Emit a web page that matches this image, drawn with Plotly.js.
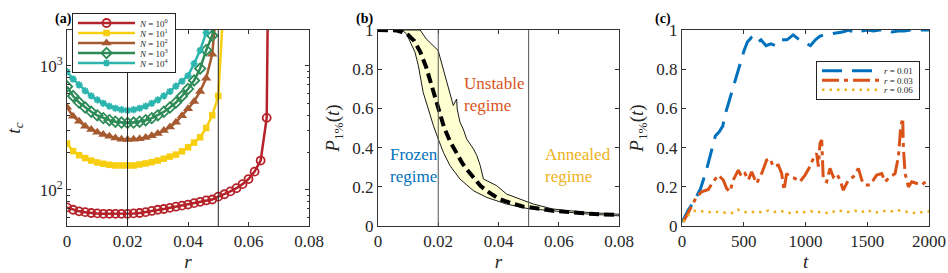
<!DOCTYPE html>
<html>
<head>
<meta charset="utf-8">
<script src="https://cdn.plot.ly/plotly-3.0.1.min.js"></script>
<style>
  html, body { margin: 0; padding: 0; background: #fff; }
  #plot { width: 948px; height: 273px; }
</style>
</head>
<body>
<div id="plot"></div>
<script>
// ---------- Panel (a): t_c vs r ----------
const rRed = [0,0.002,0.004,0.006,0.008,0.010,0.012,0.014,0.016,0.018,0.020,0.022,0.024,0.026,0.028,0.030,0.032,0.034,0.036,0.038,0.040,0.042,0.044,0.046,0.048,0.050,0.052,0.054,0.056,0.058,0.060,0.062,0.064,0.066,0.0666];
const tRed = [72,69,67,66,65,64.5,64,64,64,64,64,64.5,65,66,67.5,69,70,71.5,73,74.5,76,78,80,82,83.5,88,92,97,103,111,122,140,172,380,10000];

const rYel = [0,0.002,0.004,0.006,0.008,0.010,0.012,0.014,0.016,0.018,0.020,0.022,0.024,0.026,0.028,0.030,0.032,0.034,0.036,0.038,0.040,0.042,0.044,0.046,0.048,0.050,0.0515];
const tYel = [236,205,190,180,172,166,162,159,157,157,157,157,160,163,167,172,178,185,192,204,220,240,265,315,398,570,2500];

const rBrn = [0,0.002,0.004,0.006,0.008,0.010,0.012,0.014,0.016,0.018,0.020,0.022,0.024,0.026,0.028,0.030,0.032,0.034,0.036,0.038,0.040,0.042,0.044,0.046,0.048,0.0492];
const tBrn = [462,391,356,325,306,291,279,270,262,256,254,255,258,264,272,284,300,320,350,395,450,515,620,792,1240,2600];

const rGrn = [0,0.002,0.004,0.006,0.008,0.010,0.012,0.014,0.016,0.018,0.020,0.022,0.024,0.026,0.028,0.030,0.032,0.034,0.036,0.038,0.040,0.042,0.044,0.046,0.048,0.049];
const tGrn = [679,570,505,460,425,398,378,364,354,348,346,348,354,364,378,398,425,460,505,570,650,760,950,1335,1750,2600];

const rCyn = [0,0.002,0.004,0.006,0.008,0.010,0.012,0.014,0.016,0.018,0.020,0.022,0.024,0.026,0.028,0.030,0.032,0.034,0.036,0.038,0.040,0.042,0.044,0.046,0.047];
const tCyn = [896,782,700,627,572,530,498,472,454,442,437,442,454,472,498,530,572,620,685,750,830,1040,1330,1850,2600];

const seriesNamesA = ['<i>N</i> = 10<sup>0</sup>','<i>N</i> = 10<sup>1</sup>','<i>N</i> = 10<sup>2</sup>','<i>N</i> = 10<sup>3</sup>','<i>N</i> = 10<sup>4</sup>'];
const regimeBounds = [0.02, 0.05];

// ---------- Panel (b): P_1%(t) vs r ----------
const rMean = [0,0.002,0.004,0.006,0.008,0.010,0.012,0.014,0.016,0.018,0.020,0.022,0.024,0.026,0.028,0.030,0.032,0.034,0.036,0.038,0.040,0.042,0.044,0.046,0.048,0.050,0.052,0.054,0.056,0.058,0.060,0.062,0.064,0.066,0.068,0.070,0.072,0.074,0.076,0.078,0.080];
const pMean = [1,1,1,0.998,0.99,0.975,0.945,0.89,0.81,0.71,0.6,0.5,0.43,0.37,0.32,0.28,0.24,0.205,0.18,0.16,0.14,0.128,0.118,0.108,0.1,0.097,0.091,0.086,0.082,0.078,0.075,0.072,0.069,0.067,0.065,0.063,0.061,0.06,0.058,0.057,0.056];

const rUpper = [0.008,0.014,0.016,0.0184,0.020,0.0206,0.0222,0.0239,0.025,0.0261,0.0263,0.0272,0.0283,0.0294,0.0317,0.0328,0.0339,0.035,0.0372,0.0394,0.0427,0.047,0.0516,0.058,0.069,0.080];
const pUpper = [1,1,0.955,0.92,0.895,0.86,0.77,0.68,0.615,0.648,0.597,0.53,0.495,0.445,0.393,0.36,0.31,0.24,0.223,0.206,0.163,0.138,0.112,0.087,0.07,0.06];
const rLower = [0.008,0.0095,0.0106,0.0123,0.0134,0.014,0.015,0.0167,0.0184,0.020,0.0217,0.0239,0.0272,0.0317,0.0361,0.0427,0.0494,0.058,0.069,0.080];
const pLower = [1,0.98,0.945,0.886,0.818,0.767,0.682,0.597,0.512,0.444,0.376,0.308,0.24,0.18,0.146,0.112,0.09,0.076,0.062,0.052];

// ---------- Panel (c): P_1%(t) vs t ----------
const tBlue = [0,50,100,150,200,250,270,300,330,350,400,450,500,530,560,600,640,680,720,760,800,850,900,950,1000,1040,1080,1120,1200,1250,1300,1350,1400,1450,1500,1550,1600,1650,1700,1750,1800,1850,1900,2000];
const pBlue = [0.02,0.08,0.13,0.19,0.29,0.42,0.46,0.48,0.51,0.57,0.68,0.79,0.89,0.94,0.96,0.93,0.95,0.92,0.93,0.92,0.95,0.95,0.975,0.95,0.935,0.92,0.95,0.97,0.98,0.985,0.99,1.0,0.985,0.995,1.0,0.995,1.0,1.0,0.99,0.995,0.995,1.0,1.0,1.0];

const tOrg = [11,118,159,213,253,294,334,361,388,415,456,483,510,537,564,604,645,685,712,739,780,807,826,847,874,915,955,996,1036,1063,1090,1104,1117,1131,1144,1171,1198,1225,1252,1279,1306,1347,1387,1428,1455,1482,1522,1576,1617,1644,1684,1725,1752,1771,1787,1792,1806,1833,1860,1900,1941,1989];
const pOrg = [0.022,0.149,0.175,0.187,0.226,0.26,0.235,0.192,0.175,0.235,0.285,0.251,0.268,0.235,0.277,0.217,0.268,0.336,0.345,0.303,0.311,0.268,0.183,0.268,0.251,0.243,0.226,0.26,0.303,0.345,0.371,0.303,0.422,0.439,0.235,0.226,0.294,0.251,0.268,0.235,0.183,0.235,0.251,0.294,0.235,0.209,0.209,0.26,0.268,0.226,0.251,0.268,0.354,0.507,0.55,0.405,0.268,0.2,0.226,0.217,0.209,0.235];

const tYlw = [10,40,70,100,150,200,250,300,350,400,450,500,550,600,650,700,750,800,850,900,950,1000,1050,1100,1150,1200,1250,1300,1350,1400,1450,1500,1550,1600,1650,1700,1750,1800,1850,1900,1950,2000];
const pYlw = [0.022,0.045,0.068,0.078,0.075,0.072,0.07,0.074,0.068,0.066,0.084,0.072,0.068,0.075,0.07,0.079,0.072,0.077,0.068,0.065,0.075,0.07,0.075,0.072,0.068,0.065,0.08,0.075,0.072,0.078,0.07,0.082,0.068,0.072,0.078,0.075,0.08,0.075,0.07,0.065,0.072,0.075];
const seriesNamesC = ['<i>r</i> = 0.01','<i>r</i> = 0.03','<i>r</i> = 0.06'];

// ---------- styling ----------
const FONT = 'Liberation Serif';
const TXT = '#262626';
const colA = ['#B5232A', '#F7CE10', '#A65A30', '#2E8B57', '#2BB5AE'];
const symA = ['circle-open', 'square', 'triangle-up', 'diamond-open', 'asterisk-open'];
const sizeA = [8, 6.5, 9, 8, 6];
const dataA = [[rRed,tRed],[rYel,tYel],[rBrn,tBrn],[rGrn,tGrn],[rCyn,tCyn]];

const traces = [];
dataA.forEach((d, i) => {
  traces.push({
    x: d[0], y: d[1], xaxis: 'x', yaxis: 'y', type: 'scatter', mode: 'lines+markers',
    name: seriesNamesA[i], legend: 'legend',
    line: {color: colA[i], width: 2.5},
    marker: {symbol: symA[i], size: sizeA[i], color: colA[i], line: {color: colA[i], width: (i === 0 || i === 3 || i === 4) ? 1.8 : 0}},
    cliponaxis: true
  });
});

traces.push({
  x: rUpper.concat(rLower.slice().reverse()),
  y: pUpper.concat(pLower.slice().reverse()),
  xaxis: 'x2', yaxis: 'y2', type: 'scatter', mode: 'lines', fill: 'toself',
  fillcolor: '#FFFFD2', line: {color: '#000', width: 0.9}, showlegend: false
});
traces.push({
  x: rMean, y: pMean, xaxis: 'x2', yaxis: 'y2', type: 'scatter', mode: 'lines',
  line: {color: '#000', width: 4, dash: '10px,5px'}, showlegend: false
});

const colC = ['#0072BD', '#D95319', '#EDB120'];
const dashC = ['20px,10px', '17px,5px,4px,5px', '2.5px,5px'];
const widC = [3, 3, 2.5];
const dataC = [[tBlue,pBlue],[tOrg,pOrg],[tYlw,pYlw]];
dataC.forEach((d, i) => {
  traces.push({
    x: d[0], y: d[1], xaxis: 'x3', yaxis: 'y3', type: 'scatter', mode: 'lines',
    name: seriesNamesC[i], legend: 'legend2',
    line: {color: colC[i], width: widC[i], dash: dashC[i]}
  });
});

const tickFont = {family: FONT, size: 17, color: TXT};
const titleFont = {family: FONT, size: 19, color: TXT};
function ax(extra) {
  return Object.assign({
    showline: true, linecolor: '#333', linewidth: 1, mirror: 'ticks',
    ticks: 'inside', ticklen: 4, tickwidth: 1, tickcolor: '#333',
    showgrid: false, zeroline: false, tickfont: tickFont, fixedrange: true
  }, extra);
}
const yDom = [0.172, 0.89];

const shapes = [];
regimeBounds.forEach(b => {
  shapes.push({type: 'line', xref: 'x', yref: 'y domain', x0: b, x1: b, y0: 0, y1: 1, line: {color: '#222', width: 1}});
  shapes.push({type: 'line', xref: 'x2', yref: 'y2 domain', x0: b, x1: b, y0: 0, y1: 1, line: {color: '#555', width: 1}});
});

const annFont = {family: FONT, size: 17};
const layout = {
  width: 948, height: 273,
  margin: {l: 0, r: 0, t: 0, b: 0},
  paper_bgcolor: '#fff', plot_bgcolor: '#fff',
  font: {family: FONT, color: TXT},
  xaxis: ax({domain: [0.0707, 0.326], range: [0, 0.08], tickvals: [0,0.02,0.04,0.06,0.08], anchor: 'y',
    title: {text: '<i>r</i>', font: titleFont, standoff: 4}}),
  yaxis: ax({domain: yDom, type: 'log', range: [Math.log10(51), Math.log10(1940)], anchor: 'x',
    tickvals: [100, 1000], ticktext: ['10<sup>2</sup>', '10<sup>3</sup>'],
    minor: {ticks: 'inside', ticklen: 2.5, tickcolor: '#333', tickvals: [60,70,80,90,200,300,400,500,600,700,800,900]},
    title: {text: '<i>t<sub>c</sub></i>', font: titleFont, standoff: 14}}),
  xaxis2: ax({domain: [0.3987, 0.653], range: [0, 0.08], tickvals: [0,0.02,0.04,0.06,0.08], anchor: 'y2',
    title: {text: '<i>r</i>', font: titleFont, standoff: 4}}),
  yaxis2: ax({domain: yDom, range: [0, 1], tickvals: [0,0.2,0.4,0.6,0.8,1], anchor: 'x2',
    title: {text: '<i>P</i><sub>1%</sub>(<i>t</i>)', font: titleFont, standoff: 7}}),
  xaxis3: ax({domain: [0.7194, 0.98], range: [0, 2000], tickvals: [0,500,1000,1500,2000], anchor: 'y3',
    title: {text: '<i>t</i>', font: titleFont, standoff: 4}}),
  yaxis3: ax({domain: yDom, range: [0, 1], tickvals: [0,0.2,0.4,0.6,0.8,1], anchor: 'x3',
    title: {text: '<i>P</i><sub>1%</sub>(<i>t</i>)', font: titleFont, standoff: 7}}),
  legend: {x: 72/948, y: 1 - 13/273, xanchor: 'left', yanchor: 'top', bgcolor: '#fff',
    bordercolor: '#222', borderwidth: 1, itemwidth: 57, font: {family: FONT, size: 9, color: TXT}},
  legend2: {x: 816/948, y: 1 - 61/273, xanchor: 'left', yanchor: 'top', bgcolor: '#fff',
    bordercolor: '#222', borderwidth: 1, itemwidth: 57, font: {family: FONT, size: 9, color: TXT}},
  shapes: shapes,
  annotations: [
    {xref: 'paper', yref: 'paper', x: 54/948, y: 1 - 10/273, text: '<b>(a)</b>', showarrow: false, borderpad: 0, font: {family: FONT, size: 14, color: '#000'}},
    {xref: 'paper', yref: 'paper', x: 364/948, y: 1 - 10/273, text: '<b>(b)</b>', showarrow: false, borderpad: 0, font: {family: FONT, size: 14, color: '#000'}},
    {xref: 'paper', yref: 'paper', x: 672/948, y: 1 - 10/273, text: '<b>(c)</b>', showarrow: false, borderpad: 0, font: {family: FONT, size: 14, color: '#000'}},
    {xref: 'x2', yref: 'y2', x: 0.0279, y: 0.673, xanchor: 'left', yanchor: 'middle', align: 'left', showarrow: false,
      text: 'Unstable<br>regime', font: Object.assign({color: '#D95319'}, annFont)},
    {xref: 'x2', yref: 'y2', x: 0.0033, y: 0.311, xanchor: 'left', yanchor: 'middle', align: 'left', showarrow: false,
      text: 'Frozen<br>regime', font: Object.assign({color: '#0072BD'}, annFont)},
    {xref: 'x2', yref: 'y2', x: 0.0548, y: 0.311, xanchor: 'left', yanchor: 'middle', align: 'left', showarrow: false,
      text: 'Annealed<br>regime', font: Object.assign({color: '#EDB120'}, annFont)}
  ],
  showlegend: true
};

function compactLegend(cls, step, pad) {
  const lg = document.querySelector('g.' + cls);
  if (!lg) return;
  const items = lg.querySelectorAll('g.traces');
  items.forEach((el, i) => {
    const tr = el.getAttribute('transform') || '';
    const m = /translate\(\s*([-\d.eE]+)[ ,]+([-\d.eE]+)\s*\)/.exec(tr);
    const x = m ? m[1] : 0;
    el.setAttribute('transform', 'translate(' + x + ',' + (1 + pad + step * (i + 0.5)) + ')');
  });
  const bg = lg.querySelector('rect.bg');
  if (bg) bg.setAttribute('height', items.length * step + 2 * pad + 1);
}

Plotly.newPlot('plot', traces, layout, {staticPlot: true, displayModeBar: false}).then(() => {
  compactLegend('legend', 10, 4);
  compactLegend('legend2', 9.5, 4);
});
</script>
</body>
</html>
